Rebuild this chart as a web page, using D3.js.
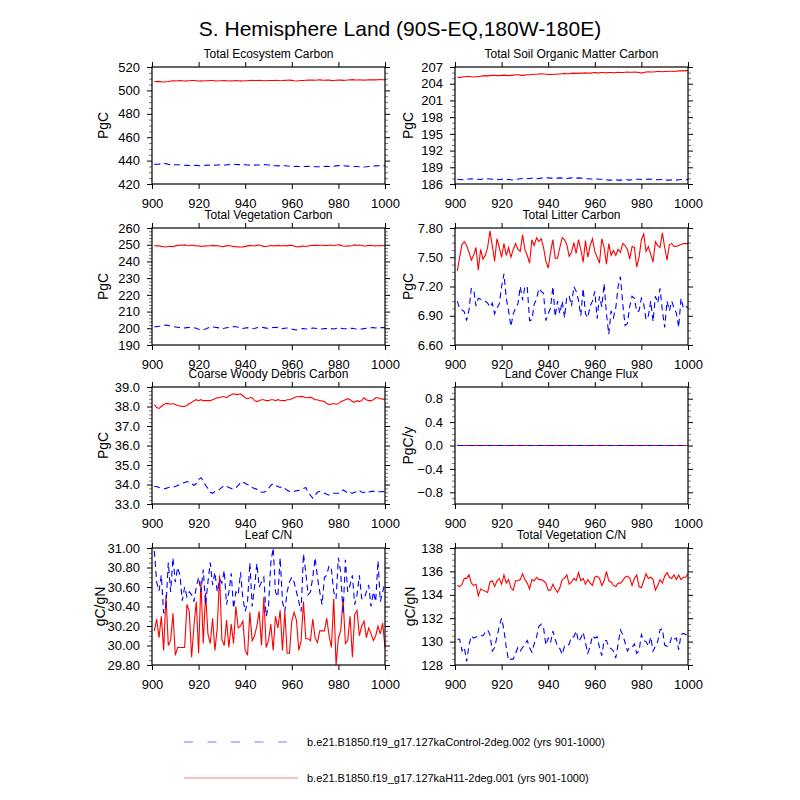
<!DOCTYPE html>
<html>
<head>
<meta charset="utf-8">
<script src="https://cdn.jsdelivr.net/npm/d3@7"></script>
<style>
    body { margin: 0; background: #fff; }
    text { font-family: "Liberation Sans", Arial, Helvetica, sans-serif; fill: #000; }
</style>
</head>
<body>
<svg id="chart" width="800" height="800"></svg>
<script>
// years on the x axis
var years = d3.range(901, 1001);

var mainTitle = 'S. Hemisphere Land (90S-EQ,180W-180E)';
var panelTitles = [
    'Total Ecosystem Carbon', 'Total Soil Organic Matter Carbon',
    'Total Vegetation Carbon', 'Total Litter Carbon',
    'Coarse Woody Debris Carbon', 'Land Cover Change Flux',
    'Leaf C/N', 'Total Vegetation C/N'
];
var yUnits = ['PgC', 'PgC', 'PgC', 'PgC', 'PgC', 'PgC/y', 'gC/gN', 'gC/gN'];
var legendLabels = [
    'b.e21.B1850.f19_g17.127kaControl-2deg.002 (yrs 901-1000)',
    'b.e21.B1850.f19_g17.127kaH11-2deg.001 (yrs 901-1000)'
];

// H11 run (red) and Control run (blue)
var totEcoH11 = [
    507.6,507.5,507.7,507.3,507.2,507.4,507.6,508.0,508.2,508.1,
    508.3,508.4,508.2,508.0,508.1,508.3,508.5,508.4,508.2,508.0,
    508.1,508.0,508.2,508.3,508.5,508.4,508.1,508.0,508.2,508.3,
    508.4,508.2,508.0,508.1,508.3,508.4,508.2,508.1,508.0,508.2,
    508.3,508.5,508.6,508.4,508.5,508.7,508.5,508.3,508.2,508.4,
    508.5,508.4,508.6,508.5,508.3,508.4,508.6,508.7,508.8,508.6,
    508.3,508.1,508.3,508.5,508.4,508.7,508.8,508.9,508.8,508.7,
    508.9,509.0,508.8,508.7,508.9,508.8,508.6,508.5,508.7,508.9,
    508.8,508.6,508.7,508.9,509.0,509.2,509.0,508.9,509.0,508.9,
    508.8,508.9,509.0,509.1,509.0,509.0,509.1,509.2,509.1,509.2
];
var totEcoCtl = [
    436.8,436.9,437.0,437.3,437.6,437.4,436.9,436.5,436.3,436.4,
    436.4,436.3,436.2,436.0,435.9,435.8,435.7,435.8,435.9,435.7,
    435.6,435.8,436.0,436.1,436.0,435.9,436.1,436.3,436.5,436.4,
    436.2,436.3,436.6,436.8,436.9,436.7,436.6,436.5,436.6,436.5,
    436.3,436.1,436.0,436.1,436.2,436.3,436.5,436.6,436.5,436.3,
    436.0,435.8,435.6,435.5,435.7,435.8,435.6,435.4,435.2,435.1,
    435.0,435.1,435.0,435.0,434.9,435.0,435.1,435.2,435.0,434.8,
    434.7,434.8,434.9,435.0,435.1,435.0,435.0,435.2,435.5,435.8,
    435.7,435.6,435.4,435.3,435.2,435.0,434.9,435.0,434.8,434.6,
    434.5,434.7,435.0,435.2,435.4,435.5,435.6,435.7,435.6,435.7
];
var soilH11 = [
    205.2,205.1,205.2,205.25,205.3,205.3,205.25,205.2,205.25,205.3,
    205.35,205.4,205.45,205.4,205.45,205.5,205.5,205.45,205.45,205.5,
    205.55,205.5,205.45,205.5,205.55,205.6,205.6,205.55,205.5,205.55,
    205.6,205.6,205.65,205.7,205.7,205.75,205.8,205.75,205.7,205.65,
    205.7,205.65,205.7,205.75,205.75,205.8,205.85,205.8,205.8,205.85,
    205.9,205.85,205.85,205.9,205.9,205.95,205.9,205.9,205.95,206.0,
    205.95,205.95,206.0,206.0,205.95,206.0,206.0,205.95,206.0,206.05,
    206.0,206.0,206.05,206.1,206.05,206.05,206.1,206.05,206.0,205.9,
    206.0,206.1,206.15,206.1,206.1,206.15,206.2,206.2,206.15,206.2,
    206.2,206.25,206.25,206.2,206.25,206.3,206.3,206.3,206.35,206.35
];
var soilCtl = [
    186.85,186.8,186.75,186.8,186.85,186.9,186.95,186.9,186.85,186.85,
    186.8,186.9,186.95,186.95,186.9,186.85,186.8,186.75,186.8,186.85,
    186.9,186.85,186.8,186.75,186.7,186.8,186.9,186.95,187.0,186.95,
    186.95,187.0,187.05,187.0,186.95,187.0,187.05,187.1,187.15,187.1,
    187.05,187.05,187.0,187.05,187.1,187.05,187.0,187.0,187.05,187.1,
    187.05,187.05,187.1,187.05,187.0,186.95,186.95,186.9,186.9,186.95,
    186.9,186.85,186.85,186.8,186.75,186.7,186.7,186.75,186.75,186.7,
    186.7,186.75,186.8,186.75,186.7,186.75,186.8,186.85,186.85,186.8,
    186.8,186.85,186.9,186.85,186.8,186.8,186.75,186.8,186.8,186.75,
    186.7,186.7,186.75,186.7,186.7,186.75,186.8,186.8,186.75,186.8
];
var vegH11 = [
    249.5,249.3,249.4,249.0,248.8,248.6,248.9,249.0,248.8,249.3,
    249.6,249.8,249.7,249.9,249.5,249.4,249.8,249.6,249.2,249.4,
    249.0,249.1,249.3,249.2,249.4,249.6,249.3,249.5,249.2,248.8,
    249.0,249.3,249.5,249.2,249.0,248.8,248.7,248.6,248.7,249.0,
    249.3,249.6,249.4,249.2,249.6,249.8,249.4,249.0,248.9,249.2,
    249.5,249.3,249.4,249.6,249.3,249.4,249.5,249.3,249.7,249.6,
    249.2,248.8,248.7,249.0,249.2,248.9,249.2,249.5,249.6,249.7,
    249.6,249.7,249.7,249.6,249.5,249.7,249.8,249.4,249.8,249.9,
    249.6,249.2,249.1,249.3,249.2,249.5,249.9,249.7,249.8,249.5,
    249.2,249.3,249.5,249.6,249.4,249.3,249.4,249.5,249.4,249.5
];
var vegCtl = [
    200.9,201.0,201.2,201.5,201.8,201.9,201.7,201.3,201.0,200.8,
    200.6,200.4,200.3,200.2,200.4,200.5,200.4,200.3,200.0,199.4,
    199.0,199.2,199.6,200.2,200.7,200.8,200.6,200.4,200.2,199.8,
    200.0,200.3,200.5,200.8,201.0,200.9,200.6,200.1,199.9,200.2,
    200.4,200.0,199.7,199.9,200.3,200.6,200.7,200.4,200.1,200.0,
    200.2,200.5,200.6,200.4,200.0,199.8,200.0,200.2,200.1,199.6,
    199.2,199.0,199.2,199.7,199.9,199.6,199.8,200.0,200.1,200.0,
    199.8,199.5,199.6,199.8,199.9,200.0,199.8,199.6,199.9,200.2,
    200.0,199.8,199.7,199.8,199.9,200.0,199.7,199.5,199.4,199.6,
    199.8,200.0,200.1,200.3,200.4,200.2,200.3,200.4,200.5,200.4
];
var litterH11 = [
    7.36,7.50,7.63,7.66,7.62,7.55,7.47,7.52,7.60,7.37,
    7.58,7.48,7.52,7.60,7.77,7.62,7.46,7.69,7.60,7.50,
    7.64,7.52,7.60,7.50,7.58,7.64,7.58,7.56,7.73,7.58,
    7.52,7.44,7.68,7.62,7.70,7.66,7.69,7.60,7.46,7.39,
    7.55,7.68,7.49,7.49,7.60,7.70,7.68,7.63,7.51,7.55,
    7.65,7.54,7.68,7.58,7.45,7.67,7.50,7.62,7.69,7.56,
    7.50,7.44,7.69,7.60,7.43,7.64,7.52,7.57,7.52,7.58,
    7.55,7.64,7.62,7.58,7.48,7.61,7.60,7.40,7.50,7.68,
    7.74,7.56,7.61,7.53,7.45,7.66,7.62,7.60,7.75,7.60,
    7.47,7.63,7.64,7.61,7.61,7.62,7.63,7.64,7.64,7.64
];
var litterCtl = [
    7.05,6.97,6.96,6.94,6.85,6.96,7.18,7.17,7.00,7.08,
    7.07,7.06,7.05,7.03,6.99,7.03,6.92,6.98,7.02,7.20,
    7.33,7.08,6.95,6.79,6.92,6.98,7.02,7.20,7.06,7.20,
    7.20,6.85,6.86,7.02,7.07,7.18,7.15,7.13,6.85,6.92,
    6.98,7.20,6.89,7.05,6.92,7.05,6.88,7.10,7.10,7.00,
    7.20,7.15,7.06,6.90,7.18,6.92,6.88,7.00,7.05,7.15,
    6.87,7.10,6.99,7.23,6.92,6.71,6.95,6.88,6.98,7.20,
    7.30,7.02,6.80,6.82,7.00,7.10,7.08,6.94,6.95,7.08,
    7.02,6.86,6.90,7.05,6.84,7.10,7.03,7.18,6.95,6.78,
    7.05,6.95,7.05,6.98,6.93,6.78,7.08,6.98,7.00,6.98
];
var cwdH11 = [
    38.1,37.95,37.9,38.0,38.1,38.15,38.15,38.12,38.15,38.1,
    38.05,38.03,38.0,38.0,38.05,38.15,38.2,38.3,38.35,38.3,
    38.35,38.3,38.3,38.3,38.3,38.35,38.4,38.45,38.45,38.5,
    38.5,38.45,38.55,38.6,38.65,38.62,38.62,38.65,38.55,38.45,
    38.4,38.45,38.45,38.3,38.25,38.3,38.35,38.35,38.3,38.3,
    38.35,38.35,38.3,38.35,38.32,38.3,38.3,38.35,38.35,38.4,
    38.45,38.5,38.5,38.52,38.5,38.45,38.45,38.48,38.42,38.35,
    38.35,38.3,38.28,38.25,38.15,38.1,38.12,38.15,38.12,38.15,
    38.25,38.3,38.35,38.4,38.35,38.25,38.22,38.3,38.25,38.3,
    38.45,38.35,38.3,38.3,38.35,38.45,38.45,38.4,38.38,38.38
];
var cwdCtl = [
    33.9,33.9,33.85,33.82,33.78,33.8,33.85,33.87,33.87,33.9,
    33.95,34.0,34.05,34.1,34.15,34.1,34.05,33.95,34.05,34.25,
    34.35,34.2,33.95,33.8,33.6,33.55,33.65,33.68,33.75,33.85,
    33.95,33.9,33.85,33.8,33.78,33.82,33.95,34.1,34.15,34.05,
    34.0,33.95,33.85,33.8,33.75,33.7,33.6,33.6,33.65,33.8,
    33.95,34.05,33.95,33.9,33.85,33.9,33.8,33.7,33.65,33.65,
    33.65,33.68,33.7,33.75,33.8,33.85,33.6,33.45,33.3,33.45,
    33.6,33.65,33.6,33.55,33.5,33.45,33.5,33.55,33.55,33.55,
    33.6,33.72,33.65,33.55,33.6,33.55,33.6,33.65,33.7,33.6,
    33.6,33.55,33.6,33.65,33.65,33.65,33.65,33.62,33.65,33.6
];
var lccH11 = [
    0,0,0,0,0,0,0,0,0,0, 0,0,0,0,0,0,0,0,0,0,
    0,0,0,0,0,0,0,0,0,0, 0,0,0,0,0,0,0,0,0,0,
    0,0,0,0,0,0,0,0,0,0, 0,0,0,0,0,0,0,0,0,0,
    0,0,0,0,0,0,0,0,0,0, 0,0,0,0,0,0,0,0,0,0,
    0,0,0,0,0,0,0,0,0,0, 0,0,0,0,0,0,0,0,0,0
];
var lccCtl = [
    0,0,0,0,0,0,0,0,0,0, 0,0,0,0,0,0,0,0,0,0,
    0,0,0,0,0,0,0,0,0,0, 0,0,0,0,0,0,0,0,0,0,
    0,0,0,0,0,0,0,0,0,0, 0,0,0,0,0,0,0,0,0,0,
    0,0,0,0,0,0,0,0,0,0, 0,0,0,0,0,0,0,0,0,0,
    0,0,0,0,0,0,0,0,0,0, 0,0,0,0,0,0,0,0,0,0
];
var leafCNH11 = [
    30.15,30.27,30.08,30.30,29.95,30.52,30.00,30.05,30.33,29.90,
    29.98,29.98,29.98,29.98,30.42,30.35,29.88,30.20,30.45,29.92,
    30.66,30.02,30.54,30.12,30.02,30.28,29.95,30.18,30.72,30.06,
    30.00,30.26,29.98,30.22,30.02,30.40,30.18,30.20,30.25,29.95,
    29.90,30.34,30.05,30.10,30.20,30.35,30.00,30.50,29.98,30.05,
    30.22,29.95,30.30,30.18,30.36,29.95,30.35,29.92,29.92,30.25,
    30.34,30.26,29.95,30.05,30.45,30.07,30.07,30.05,30.27,30.08,
    30.03,30.15,30.15,30.15,30.28,30.10,29.98,30.48,29.80,30.08,
    30.15,30.48,30.02,30.05,30.30,29.88,30.32,30.36,30.10,30.20,
    30.25,30.08,30.18,30.12,30.05,30.10,30.20,30.12,30.23,29.98
];
var leafCNCtl = [
    30.97,30.65,30.56,30.72,30.33,30.40,30.85,30.55,30.90,30.65,
    30.80,30.72,30.46,30.60,30.50,30.55,30.52,30.45,30.60,30.70,
    30.55,30.78,30.42,30.65,30.85,30.62,30.75,30.55,30.68,30.64,
    30.77,30.42,30.55,30.74,30.38,30.55,30.52,30.75,30.48,30.35,
    30.45,30.85,30.40,30.60,30.84,30.60,30.65,30.70,30.30,30.40,
    30.85,31.00,30.55,30.50,30.90,30.45,30.35,30.55,30.65,30.70,
    30.65,30.55,30.45,30.35,30.94,30.75,30.52,30.55,30.70,30.90,
    30.70,30.55,30.42,30.70,30.72,30.82,30.78,30.55,30.48,30.90,
    30.75,30.32,30.88,30.55,30.62,30.72,30.42,30.52,30.72,30.48,
    30.48,30.55,30.62,30.40,30.55,30.45,30.87,30.45,30.55,30.65
];
var vegCNH11 = [
    134.8,134.7,134.9,135.4,135.4,135.7,135.0,134.8,134.9,133.9,
    134.5,134.4,134.3,134.2,135.1,135.2,134.7,135.2,135.4,134.9,
    135.7,135.0,135.3,134.6,134.4,135.2,135.2,135.3,135.8,135.3,
    135.0,134.5,135.3,135.2,135.5,135.3,135.3,135.2,135.0,134.4,
    134.4,134.9,134.5,134.2,134.6,135.3,135.4,135.7,134.9,135.1,
    135.4,135.2,135.9,135.2,135.4,134.9,135.3,135.0,134.8,135.5,
    135.6,135.4,134.8,135.2,136.0,135.2,135.1,134.8,134.7,135.0,
    135.0,135.2,135.5,135.6,135.4,134.8,135.4,135.7,134.7,134.6,
    135.2,135.8,135.4,135.5,135.3,134.4,134.8,135.3,135.0,135.6,
    135.9,135.5,135.4,135.7,135.3,135.7,135.3,135.5,135.5,135.8
];
var vegCNCtl = [
    130.2,130.2,129.2,129.5,128.3,129.7,130.5,130.3,130.4,130.5,
    130.5,130.5,130.8,131.0,130.6,129.2,129.5,130.4,131.3,132.0,
    131.0,129.5,128.4,128.5,128.5,129.0,129.5,129.2,129.5,129.8,
    130.1,129.5,129.1,129.8,130.4,131.3,131.5,131.2,129.7,130.3,
    129.9,130.9,130.2,129.6,129.4,128.9,129.6,129.6,129.8,130.4,
    130.4,130.9,130.0,130.3,130.8,129.9,129.0,129.6,130.5,130.3,
    130.4,129.5,128.8,130.1,130.1,129.5,129.4,129.2,128.6,129.8,
    131.0,130.6,129.9,129.2,129.5,129.5,129.8,129.0,129.2,130.6,
    130.1,130.0,129.6,130.4,129.2,129.6,130.0,131.0,131.1,129.7,
    129.6,129.7,130.4,130.2,130.3,129.3,130.6,130.7,130.6,130.5
];

var redSeries = [totEcoH11, soilH11, vegH11, litterH11, cwdH11, lccH11, leafCNH11, vegCNH11];
var blueSeries = [totEcoCtl, soilCtl, vegCtl, litterCtl, cwdCtl, lccCtl, leafCNCtl, vegCNCtl];

var yDomains = [[420, 520], [186, 207], [190, 260], [6.6, 7.8], [33, 39], [-1, 1], [29.8, 31], [128, 138]];
var yMajorTicks = [
    [420, 440, 460, 480, 500, 520],
    [186, 189, 192, 195, 198, 201, 204, 207],
    [190, 200, 210, 220, 230, 240, 250, 260],
    [6.6, 6.9, 7.2, 7.5, 7.8],
    [33, 34, 35, 36, 37, 38, 39],
    [-0.8, -0.4, 0, 0.4, 0.8],
    [29.8, 30, 30.2, 30.4, 30.6, 30.8, 31],
    [128, 130, 132, 134, 136, 138]
];
var yMinorStep = [5, 1, 2, 0.075, 0.2, 0.1, 0.05, 0.5];
var yFormats = ['d', 'd', 'd', '.2f', '.1f', '.1f', '.2f', 'd'];
var xTicks = [900, 920, 940, 960, 980, 1000];

var colLeft = [152, 455];
var rowTop = [67, 228, 387, 548];
var plotW = 233;
var plotH = 117;
var unitOffset = [-49, -47, -49, -47, -49, -47, -52, -45];

var svg = d3.select('#chart');

svg.append('text')
    .attr('x', 400)
    .attr('y', 36)
    .attr('text-anchor', 'middle')
    .style('font-size', '21px')
    .text(mainTitle);

function drawPanel(p) {
    var px = colLeft[p % 2];
    var py = rowTop[Math.floor(p / 2)];
    var g = svg.append('g').attr('transform', 'translate(' + px + ',' + py + ')');

    var x = d3.scaleLinear().domain([900, 1000]).range([0, plotW]);
    var y = d3.scaleLinear().domain(yDomains[p]).range([plotH, 0]);

    // minor y ticks, no labels
    var dom = yDomains[p];
    var minors = [];
    for (let v = dom[0]; v <= dom[1] + 1e-9; v += yMinorStep[p]) {
        var vv = +v.toFixed(4);
        if (yMajorTicks[p].every(function (m) { return Math.abs(m - vv) > 1e-6; })) minors.push(vv);
    }
    [d3.axisLeft(y), d3.axisRight(y)].forEach(function (ax, i) {
        var a = g.append('g')
            .attr('transform', i == 1 ? 'translate(' + plotW + ',0)' : null)
            .call(ax.tickValues(minors).tickSize(3).tickFormat(''));
        a.select('.domain').remove();
        a.selectAll('line').attr('stroke', '#555').attr('stroke-width', 0.8);
    });

    var yl = g.append('g')
        .call(d3.axisLeft(y).tickValues(yMajorTicks[p]).tickSize(5).tickPadding(7).tickFormat(d3.format(yFormats[p])));
    var yr = g.append('g')
        .attr('transform', 'translate(' + plotW + ',0)')
        .call(d3.axisRight(y).tickValues(yMajorTicks[p]).tickSize(5).tickFormat(''));
    var xb = g.append('g')
        .attr('transform', 'translate(0,' + plotH + ')')
        .call(d3.axisBottom(x).tickValues(xTicks).tickSize(5).tickPadding(10).tickFormat(d3.format('d')));
    var xt = g.append('g')
        .call(d3.axisTop(x).tickValues(xTicks).tickSize(5).tickFormat(''));
    [yl, yr, xb, xt].forEach(function (a) {
        a.select('.domain').remove();
        a.selectAll('line').attr('stroke', '#000').attr('stroke-width', 1);
        a.selectAll('text').style('font-size', '13px').style('font-family', '"Liberation Sans", Arial, sans-serif');
    });

    var line = d3.line()
        .x(function (d, i) { return x(years[i]); })
        .y(function (d) { return y(d); });

    g.append('path')
        .datum(redSeries[p])
        .attr('d', line)
        .attr('fill', 'none')
        .attr('stroke', '#ff0000')
        .attr('stroke-width', 1.1);

    g.append('path')
        .datum(blueSeries[p])
        .attr('d', line)
        .attr('fill', 'none')
        .attr('stroke', '#0000ff')
        .attr('stroke-width', 1.1)
        .attr('stroke-dasharray', '6,4');

    g.append('rect')
        .attr('width', plotW)
        .attr('height', plotH)
        .attr('fill', 'none')
        .attr('stroke', '#000')
        .attr('stroke-width', 1.2);

    g.append('text')
        .attr('x', plotW / 2)
        .attr('y', -9)
        .attr('text-anchor', 'middle')
        .style('font-size', '12px')
        .text(panelTitles[p]);

    g.append('text')
        .attr('transform', 'translate(' + unitOffset[p] + ',' + plotH / 2 + ') rotate(-90)')
        .attr('text-anchor', 'middle')
        .attr('dy', '0.35em')
        .style('font-size', '14px')
        .text(yUnits[p]);
}

for (let p = 0; p < 8; p++) drawPanel(p);

// legend
var legendColors = ['#a8a8ff', '#ffa8a8'];
var legendDash = ['9,14.5', null];
var legendY = [742, 778];
for (let i = 0; i < 2; i++) {
    svg.append('line')
        .attr('x1', 184).attr('x2', 298)
        .attr('y1', legendY[i]).attr('y2', legendY[i])
        .attr('stroke', legendColors[i])
        .attr('stroke-width', 1.5)
        .attr('stroke-dasharray', legendDash[i]);
    svg.append('text')
        .attr('x', 307)
        .attr('y', legendY[i] + 4)
        .style('font-size', '11px')
        .text(legendLabels[i]);
}
</script>
</body>
</html>
